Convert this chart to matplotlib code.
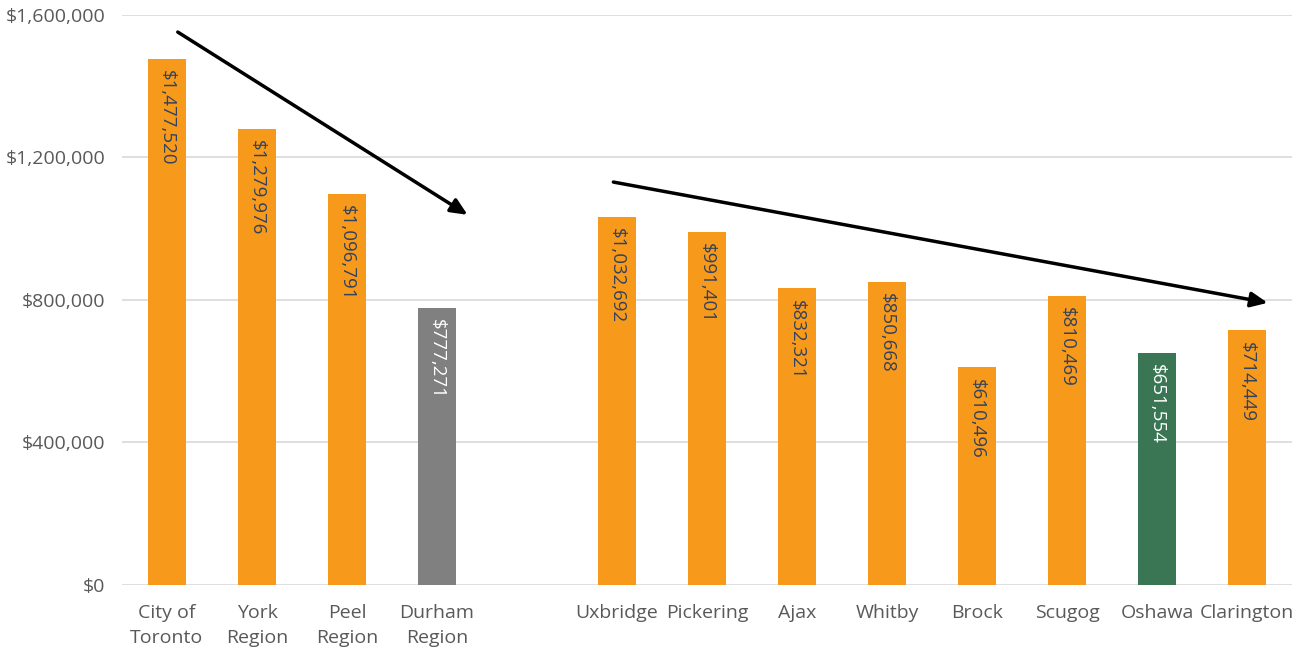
import matplotlib
matplotlib.use("Agg")
import matplotlib.pyplot as plt
from matplotlib.ticker import FuncFormatter, MultipleLocator

categories = ["City of\nToronto", "York\nRegion", "Peel\nRegion", "Durham\nRegion", "",
              "Uxbridge", "Pickering", "Ajax", "Whitby", "Brock", "Scugog", "Oshawa", "Clarington"]
values = [1477520, 1279976, 1096791, 777271, None,
          1032692, 991401, 832321, 850668, 610496, 810469, 651554, 714449]
colors = ["#F79A1C", "#F79A1C", "#F79A1C", "#808080", None,
          "#F79A1C", "#F79A1C", "#F79A1C", "#F79A1C", "#F79A1C", "#F79A1C", "#3B7654", "#F79A1C"]
label_colors = ["#33415C", "#33415C", "#33415C", "white", None,
                "#33415C", "#33415C", "#33415C", "#33415C", "#33415C", "#33415C", "white", "#33415C"]

# Trend arrows: (x_start, y_start, x_end, y_end) in category index / dollar units
regional_trend = (0.12, 1552000, 3.34, 1039000)
durham_trend = (4.96, 1131000, 12.23, 792000)

plt.rcParams["font.family"] = ["Open Sans", "DejaVu Sans"]

fig = plt.figure(figsize=(12.99, 6.51), dpi=100)
ax = fig.add_axes([0.0939, 0.1014, 0.9007, 0.8756])

positions = list(range(len(categories)))
for x, v, c, lc in zip(positions, values, colors, label_colors):
    if v is None:
        continue
    ax.bar(x, v, width=0.42, color=c, zorder=3)
    ax.annotate(f"${v:,.0f}", xy=(x, v), xytext=(0, -8), textcoords="offset points",
                rotation=270, ha="center", va="top", fontsize=13.5, color=lc, zorder=4)

for x0, y0, x1, y1 in (regional_trend, durham_trend):
    ax.annotate("", xy=(x1, y1), xytext=(x0, y0),
                arrowprops=dict(arrowstyle="-|>,head_length=1.0,head_width=0.45",
                                color="black", lw=2.5, shrinkA=0, shrinkB=0), zorder=5)

ax.set_xlim(-0.5, len(categories) - 0.5)
ax.set_ylim(0, 1600000)
ax.yaxis.set_major_locator(MultipleLocator(400000))
ax.yaxis.set_major_formatter(FuncFormatter(lambda v, p: f"${v:,.0f}"))
ax.set_xticks(positions)
ax.set_xticklabels(categories, linespacing=1.5)
ax.grid(axis="y", color="#D9D9D9", lw=1.2, zorder=0)
for s in ax.spines.values():
    s.set_visible(False)
ax.tick_params(axis="both", length=0, labelsize=14, colors="#595959")
ax.tick_params(axis="x", pad=14)
ax.tick_params(axis="y", pad=12)

fig.savefig("out.png", dpi=100, facecolor="white")
